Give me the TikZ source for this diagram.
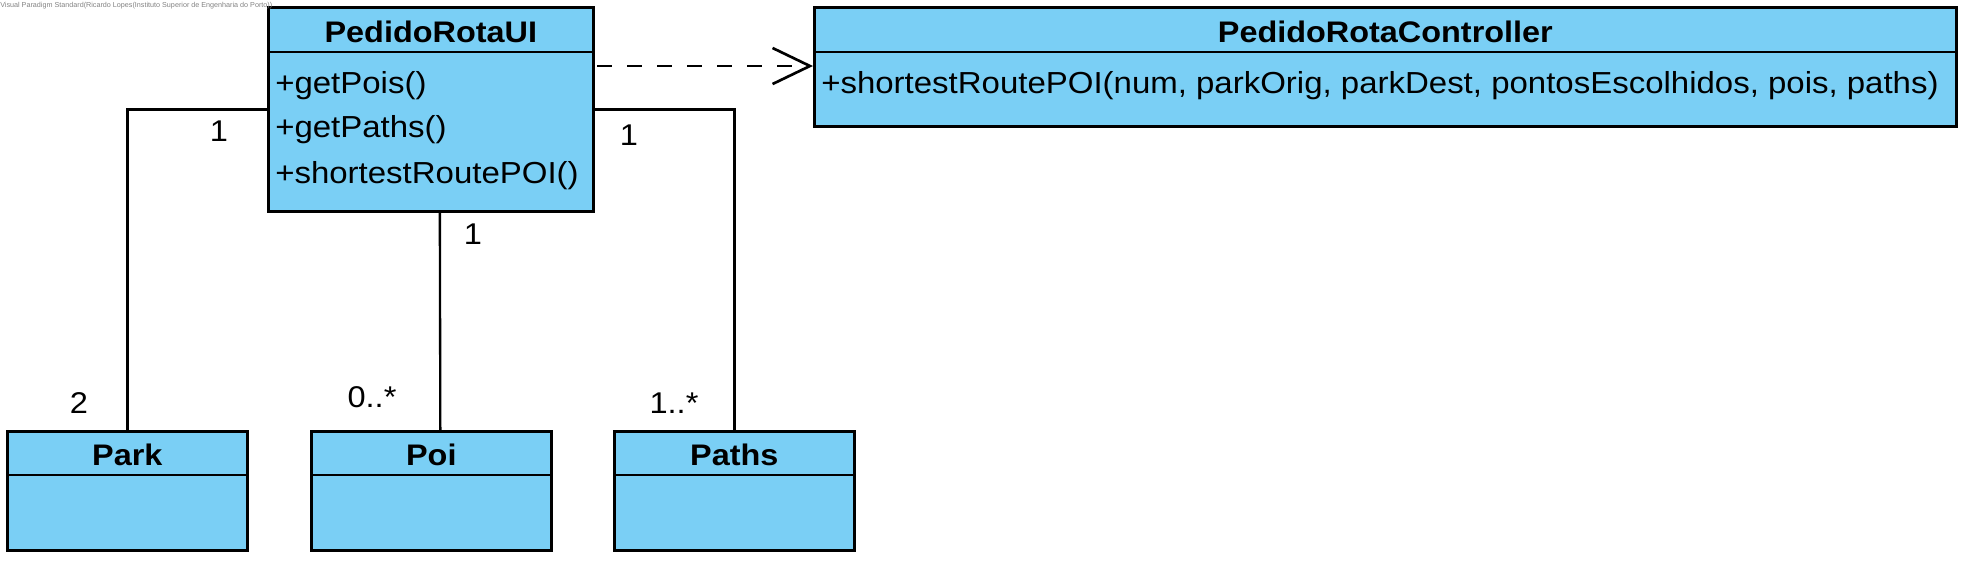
\documentclass[tikz,border=0pt]{standalone}
\usepackage{fontspec}
\setmainfont{Liberation Sans}
\newfontfamily\regfont{Liberation Sans}[FakeStretch=1.085]
\newfontfamily\boldfont{Liberation Sans Bold}[FakeStretch=1.09]
\usetikzlibrary{arrows.meta,calc}
\definecolor{vpblue}{RGB}{122,207,245}
\definecolor{wmgray}{RGB}{130,130,130}
\begin{document}
\begin{tikzpicture}[x=0.75pt,y=-0.75pt,
 classbox/.style={draw=black,fill=vpblue,line width=2pt,rectangle,anchor=north west,inner sep=0pt},
 sepline/.style={line width=2pt},
 ctitle/.style={font=\boldfont\fontsize{22.3}{26}\selectfont,inner sep=0pt,anchor=base},
 member/.style={font=\regfont\fontsize{22.8}{27}\selectfont,inner sep=0pt,anchor=base west},
 mult/.style={font=\regfont\fontsize{22.5}{27}\selectfont,inner sep=0pt},
 assoc/.style={line width=1.75pt},
 dep/.style={line width=2pt,dash pattern=on 11.25pt off 11.25pt,dash phase=-2pt,-{Straight Barb[length=28pt,width=27pt,line width=2pt]}},
 watermark/.style={font=\fontsize{5.4}{6}\selectfont,text=wmgray,inner sep=0pt,anchor=west}
]
\useasboundingbox (0,0) rectangle (1965,561);

% PedidoRotaUI
\node[classbox,minimum width=243.75pt,minimum height=153pt] (ui) at (267,6) {};
\draw[sepline] ($(ui.north west)+(0,46)$) -- ($(ui.north east)+(0,46)$);
\node[ctitle] (uititle) at ($(ui.north)+(0,36)$) {PedidoRotaUI};
\node[member] (m1) at ($(ui.north west)+(8,87)$) {+getPois()};
\node[member] (m2) at ($(ui.north west)+(8,131)$) {+getPaths()};
\node[member] (m3) at ($(ui.north west)+(8,177)$) {+shortestRoutePOI()};

% PedidoRotaController
\node[classbox,minimum width=856.5pt,minimum height=89.25pt] (ctrl) at (813,6) {};
\draw[sepline] ($(ctrl.north west)+(0,46)$) -- ($(ctrl.north east)+(0,46)$);
\node[ctitle] (ctrltitle) at ($(ctrl.north)+(0,36)$) {PedidoRotaController};
\node[member] (c1) at ($(ctrl.north west)+(8,87)$) {+shortestRoutePOI(num, parkOrig, parkDest, pontosEscolhidos, pois, paths)};

% Park, Poi, Paths
\node[classbox,minimum width=180pt,minimum height=89.25pt] (park) at (6,430) {};
\draw[sepline] ($(park.north west)+(0,45)$) -- ($(park.north east)+(0,45)$);
\node[ctitle] (parktitle) at ($(park.north)+(0,35)$) {Park};

\node[classbox,minimum width=180pt,minimum height=89.25pt] (poi) at (310,430) {};
\draw[sepline] ($(poi.north west)+(0,45)$) -- ($(poi.north east)+(0,45)$);
\node[ctitle] (poititle) at ($(poi.north)+(0,35)$) {Poi};

\node[classbox,minimum width=180pt,minimum height=89.25pt] (paths) at (613,430) {};
\draw[sepline] ($(paths.north west)+(0,45)$) -- ($(paths.north east)+(0,45)$);
\node[ctitle] (pathstitle) at ($(paths.north)+(0,35)$) {Paths};

% connectors
\draw[dep] ($(ui.north east)+(0,60)$) -- ($(ctrl.north west)+(0,60)$);
\draw[assoc] (ui.west) -| (park.north);
\draw[assoc] ($(ui.south)+(9,0)$) -- ($(poi.north)+(9,0)$);
\draw[assoc] (ui.east) -| (paths.north);

% multiplicities
\node[mult] (l1) at (219,131) {1};
\node[mult] (l2) at (79,403) {2};
\node[mult] (l3) at (473,234) {1};
\node[mult] (l4) at (372,397) {0..*};
\node[mult] (l5) at (629,135) {1};
\node[mult] (l6) at (674,403) {1..*};

\node[watermark] (wm) at (0,6) {Visual Paradigm Standard(Ricardo Lopes(Instituto Superior de Engenharia do Porto))};
\end{tikzpicture}
\end{document}
